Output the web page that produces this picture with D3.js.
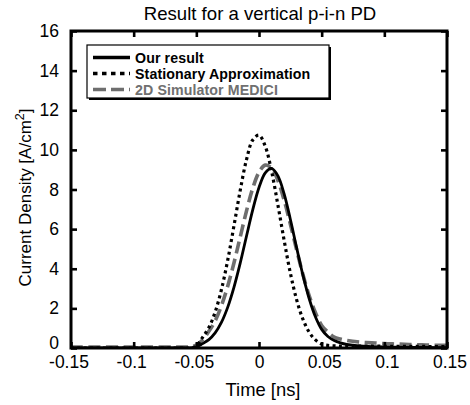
<!DOCTYPE html>
<html>
<head>
<meta charset="utf-8">
<script src="https://cdn.jsdelivr.net/npm/d3@7"></script>
<style>
  html, body { margin: 0; padding: 0; background: #fff; }
  svg { display: block; font-family: "Liberation Sans", Arial, sans-serif; }
</style>
</head>
<body>
<div id="chart"></div>
<script>
// Time axis samples [ns]
const timeNs = [-0.15, -0.1, -0.06, -0.055, -0.05, -0.045, -0.04, -0.035, -0.03, -0.025, -0.02, -0.015,
    -0.01, -0.005, 0, 0.005, 0.01, 0.015, 0.02, 0.025, 0.03, 0.035, 0.04, 0.045, 0.05, 0.055,
    0.06, 0.065, 0.07, 0.08, 0.09, 0.1, 0.11, 0.12, 0.13, 0.14, 0.15];

// Current density [A/cm2]
const ourResult = [0, 0, 0, 0, 0.05, 0.22, 0.42, 0.76, 1.29, 2.05, 3.06, 4.28,
    5.64, 6.97, 8.10, 8.84, 9.07, 8.70, 7.79, 6.50, 5.07, 3.69, 2.50, 1.58, 0.94, 0.58,
    0.38, 0.26, 0.18, 0.10, 0.07, 0.05, 0.04, 0.03, 0.03, 0.02, 0.02];

const stationary = [0, 0, 0, 0, 0.1, 0.54, 1.03, 1.81, 2.94, 4.42, 6.16, 7.95,
    9.50, 10.50, 10.74, 10.18, 8.93, 7.25, 5.45, 3.79, 2.44, 1.46, 0.80, 0.41, 0.2, 0.13,
    0.11, 0.1, 0.1, 0.1, 0.09, 0.09, 0.08, 0.08, 0.08, 0.07, 0.07];

const medici = [0.05, 0.05, 0.05, 0.05, 0.15, 0.4, 0.84, 1.37, 2.13, 3.11, 4.29, 5.60,
    6.91, 8.06, 8.87, 9.23, 9.08, 8.47, 7.47, 6.26, 4.96, 3.72, 2.65, 1.79, 1.14, 0.8,
    0.55, 0.45, 0.38, 0.3, 0.26, 0.22, 0.2, 0.18, 0.16, 0.14, 0.13];

const xTicks = [-0.15, -0.1, -0.05, 0, 0.05, 0.1, 0.15];
const yTicks = [0, 2, 4, 6, 8, 10, 12, 14, 16];

const seriesNames = ["Our result", "Stationary Approximation", "2D Simulator MEDICI"];

// Chart setup
const width = 470, height = 405;
const margin = { top: 31, right: 23, bottom: 57, left: 71 };

const svg = d3.select('#chart')
    .append('svg')
    .attr('width', width)
    .attr('height', height);

const x = d3.scaleLinear()
    .domain([-0.15, 0.15])
    .range([margin.left, width - margin.right]);

const y = d3.scaleLinear()
    .domain([0, 16])
    .range([height - margin.bottom, margin.top]);

const fmt = d => d === 0 ? '0' : String(d);

// Styles per series (legend samples use a slightly coarser pattern)
const styles = [
    { values: ourResult, stroke: '#000', width: 2.8, dash: null, legDash: null, legWidth: 3.4 },
    { values: stationary, stroke: '#000', width: 3.2, dash: '3,3.4', legDash: '4.5,4.5', legWidth: 3.6 },
    { values: medici, stroke: '#6e6e6e', width: 3.6, dash: '12,5.5', legDash: '13,5', legWidth: 3.6 }
];

const clipId = 'plotClip';
svg.append('clipPath').attr('id', clipId)
    .append('rect')
    .attr('x', margin.left)
    .attr('y', margin.top - 5)
    .attr('width', width - margin.left - margin.right)
    .attr('height', height - margin.top - margin.bottom + 5);

const line = d3.line()
    .x((d, i) => x(timeNs[i]))
    .y(d => y(d))
    .curve(d3.curveCatmullRom.alpha(0.5));

// Draw the MEDICI curve first, then the others over it
const drawOrder = [2, 1, 0];
drawOrder.forEach(k => {
    const s = styles[k];
    svg.append('path')
        .attr('clip-path', `url(#${clipId})`)
        .attr('d', line(s.values))
        .attr('fill', 'none')
        .attr('stroke', s.stroke)
        .attr('stroke-width', s.width)
        .attr('stroke-dasharray', s.dash)
        .attr('stroke-linecap', 'butt')
        .attr('stroke-linejoin', 'round');
});

// Axes: bottom/left with labels, top/right tick-only, all ticks inward
const tickLen = 6;
const xAxisBottom = svg.append('g')
    .attr('transform', `translate(0,${y(0)})`)
    .call(d3.axisBottom(x).tickValues(xTicks).tickSize(-tickLen).tickPadding(8).tickFormat(fmt));
const xAxisTop = svg.append('g')
    .attr('transform', `translate(0,${y(16)})`)
    .call(d3.axisTop(x).tickValues(xTicks).tickSize(-tickLen).tickFormat(''));
const yAxisLeft = svg.append('g')
    .attr('transform', `translate(${x(-0.15)},0)`)
    .call(d3.axisLeft(y).tickValues(yTicks).tickSize(-tickLen).tickPadding(12).tickFormat(fmt));
const yAxisRight = svg.append('g')
    .attr('transform', `translate(${x(0.15)},0)`)
    .call(d3.axisRight(y).tickValues(yTicks).tickSize(-tickLen).tickFormat(''));

[xAxisBottom, xAxisTop, yAxisLeft, yAxisRight].forEach(g => {
    g.select('.domain').remove();
    g.selectAll('.tick line').attr('stroke', '#000').attr('stroke-width', 2.6);
    g.selectAll('.tick text')
        .attr('fill', '#000')
        .style('font-size', '17.5px')
        .style('font-family', '"Liberation Sans", Arial, sans-serif');
});
// labels sit a little outward from their ticks, as in the original
xAxisBottom.selectAll('.tick text').attr('dx', d => d < 0 ? -2.5 : d > 0 ? 2.5 : 0);
// the lowest y label sits a touch higher so it clears the x labels
yAxisLeft.selectAll('.tick text').filter(d => d === 0).attr('dy', '0em');

// Frame
svg.append('rect')
    .attr('x', x(-0.15))
    .attr('y', y(16))
    .attr('width', x(0.15) - x(-0.15))
    .attr('height', y(0) - y(16))
    .attr('fill', 'none')
    .attr('stroke', '#000')
    .attr('stroke-width', 3);

// Title and axis labels
svg.append('text')
    .attr('x', 260)
    .attr('y', 20)
    .attr('text-anchor', 'middle')
    .style('font-size', '18.6px')
    .text('Result for a vertical p-i-n PD');

svg.append('text')
    .attr('x', 263)
    .attr('y', 396)
    .attr('text-anchor', 'middle')
    .style('font-size', '18.4px')
    .text('Time [ns]');

const yLabel = svg.append('text')
    .attr('transform', `translate(31,${(y(0) + y(16)) / 2 + 8}) rotate(-90)`)
    .attr('text-anchor', 'middle')
    .style('font-size', '17px');
yLabel.append('tspan').text('Current Density [A/cm');
yLabel.append('tspan').attr('dy', -7).style('font-size', '12.5px').text('2');
yLabel.append('tspan').attr('dy', 7).text(']');

// Legend
const legend = svg.append('g').attr('transform', 'translate(87,45)');
const legW = 242, legH = 53;
legend.append('rect')
    .attr('x', 2).attr('y', 2)
    .attr('width', legW).attr('height', legH)
    .attr('fill', '#000');
legend.append('rect')
    .attr('x', 0).attr('y', 0)
    .attr('width', legW).attr('height', legH)
    .attr('fill', '#fff')
    .attr('stroke', '#000')
    .attr('stroke-width', 1.2);

seriesNames.forEach((name, i) => {
    const s = styles[i];
    const ly = 12.5 + i * 16;
    legend.append('line')
        .attr('x1', 6).attr('x2', 43)
        .attr('y1', ly).attr('y2', ly)
        .attr('stroke', s.stroke)
        .attr('stroke-width', s.legWidth)
        .attr('stroke-dasharray', s.legDash);
    legend.append('text')
        .attr('x', 48)
        .attr('y', ly + 5)
        .attr('fill', i === 2 ? '#707070' : '#000')
        .style('font-size', '14.2px')
        .style('font-weight', 'bold')
        .style('letter-spacing', '0.1px')
        .text(name);
});
</script>
</body>
</html>
